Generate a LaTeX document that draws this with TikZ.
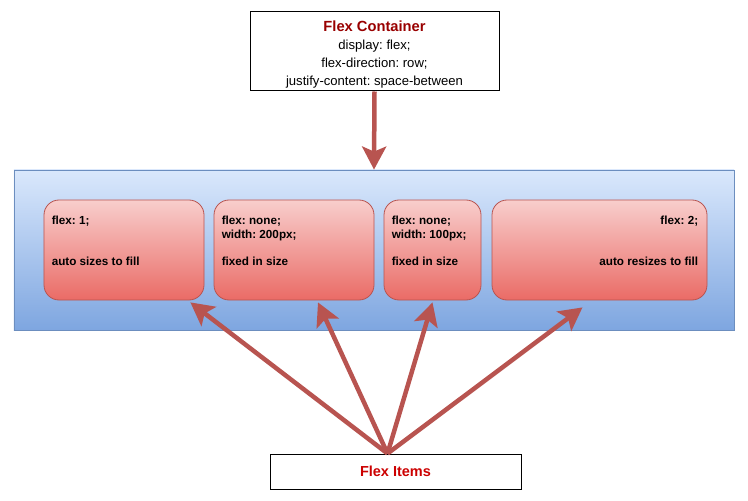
\documentclass[tikz,border=0pt]{standalone}
\usepackage{fontspec}
\setmainfont{Liberation Sans}
\usetikzlibrary{arrows.meta}
\frenchspacing

\definecolor{arrowred}{HTML}{B85450}
\definecolor{itemtop}{HTML}{F8CECC}
\definecolor{itembottom}{HTML}{EA6B66}
\definecolor{blueline}{HTML}{6C8EBF}
\definecolor{bluetop}{HTML}{DAE8FC}
\definecolor{bluebottom}{HTML}{7EA6E0}
\definecolor{titlered}{HTML}{990000}
\definecolor{labelred}{HTML}{CC0000}

\tikzset{
    notebox/.style={draw=black, line width=1bp, fill=white, inner sep=0pt},
    flexitem/.style={draw=arrowred, line width=0.8bp, rounded corners=15bp,
        top color=itemtop, bottom color=itembottom, minimum height=100bp, inner sep=0pt},
    itemtext/.style={inner sep=0pt, font=\fontsize{11.7bp}{13.67bp}\selectfont\bfseries},
    link/.style={draw=arrowred, line width=4.5bp,
        -{Stealth[length=23bp, width=24bp, inset=5bp]}},
}

\begin{document}
\begin{tikzpicture}[x=1bp, y=-1bp]

    \useasboundingbox (0,0) rectangle (748,501);

    % Container box at the top
    \node[notebox, minimum width=249bp, minimum height=79bp] (container) at (374.5,51.5) {};
    \node[inner sep=0pt, align=center, font=\fontsize{13.1bp}{18bp}\selectfont]
        at ([yshift=-3bp]container.center)
        {{\fontsize{14.7bp}{18bp}\selectfont\bfseries\color{titlered}Flex Container}\\
         display: flex;\\ flex-direction: row;\\ justify-content: space-between};

    % The flex box with its items
    \node[draw=blueline, line width=0.8bp, top color=bluetop, bottom color=bluebottom,
          minimum width=720bp, minimum height=160bp, inner sep=0pt] (flexbox) at (374,250) {};

    \node[flexitem, minimum width=160bp] (i1) at (124,250) {};
    \node[flexitem, minimum width=160bp] (i2) at (294,250) {};
    \node[flexitem, minimum width=97bp] (i3) at (432.5,250) {};
    \node[flexitem, minimum width=215bp] (i4) at (599.5,250) {};

    % Texts inside the items
    \node[itemtext, anchor=north west, align=left] at ([shift={(8,16.5)}]i1.north west)
        {flex: 1;\\ \\ \\auto sizes to fill};
    \node[itemtext, anchor=north west, align=left] at ([shift={(8,16.5)}]i2.north west)
        {flex: none;\\width: 200px;\\ \\fixed in size};
    \node[itemtext, anchor=north west, align=left] at ([shift={(8,16.5)}]i3.north west)
        {flex: none;\\width: 100px;\\ \\fixed in size};
    \node[itemtext, anchor=north east, align=right] at ([shift={(-9,16.5)}]i4.north east)
        {flex: 2;\\ \\ \\auto resizes to fill};

    % Items label at the bottom
    \node[notebox, minimum width=251bp, minimum height=35bp,
          font=\fontsize{14.5bp}{17bp}\selectfont\bfseries, text=labelred] (items) at (395.5,471.5)
        {\raisebox{-1.5bp}{Flex Items}};

    % Arrows
    \draw[link] (container.south) -- (flexbox.north);

    \coordinate (src) at ([xshift=-8bp]items.north);
    \draw[link] (src) -- ([xshift=-14bp, yshift=-2bp]i1.south east);
    \draw[link] (src) -- ([xshift=24bp, yshift=-2bp]i2.south);
    \draw[link] (src) -- ([yshift=-2bp]i3.south);
    \draw[link] (src) -- ([xshift=-17bp, yshift=-7bp]i4.south);

\end{tikzpicture}
\end{document}
